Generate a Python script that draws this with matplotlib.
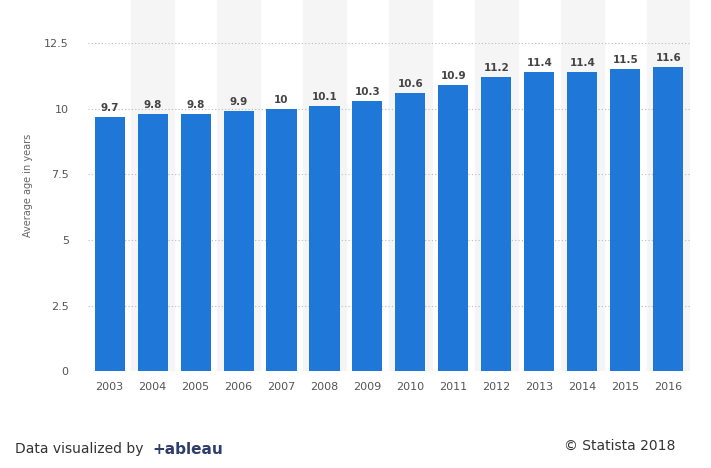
import matplotlib.pyplot as plt

# DATA
years = ["2003", "2004", "2005", "2006", "2007", "2008", "2009",
         "2010", "2011", "2012", "2013", "2014", "2015", "2016"]
ages = [9.7, 9.8, 9.8, 9.9, 10, 10.1, 10.3, 10.6, 10.9, 11.2, 11.4, 11.4, 11.5, 11.6]
yticks = [0, 2.5, 5, 7.5, 10, 12.5]
ytick_labels = ["0", "2.5", "5", "7.5", "10", "12.5"]

fig = plt.figure(figsize=(7.11, 4.68), dpi=100)
ax = fig.add_axes([0.124, 0.207, 0.846, 0.793])

x = range(len(years))

# alternating light background bands
for i in x:
    if i % 2 == 1:
        ax.axvspan(i - 0.5, i + 0.5, color="#f5f5f5", zorder=0)

bars = ax.bar(x, ages, width=0.7, color="#1f77d8", zorder=3)

for xi, v in zip(x, ages):
    ax.text(xi, v + 0.15, f"{v:g}", ha="center", va="bottom",
            fontsize=7.5, fontweight="bold", color="#444444", zorder=4)

ax.set_xlim(-0.5, len(years) - 0.5)
ax.set_ylim(0, 14.14)
ax.set_yticks(yticks)
ax.set_yticklabels(ytick_labels)
ax.set_xticks(list(x))
ax.set_xticklabels(years)
ax.yaxis.grid(True, linestyle=(0, (1, 2)), color="#bbbbbb", linewidth=0.8, zorder=1)
ax.tick_params(axis="both", length=0, labelsize=8, colors="#555555", pad=8)
ax.tick_params(axis="y", pad=14)
for s in ax.spines.values():
    s.set_visible(False)
ax.set_ylabel("Average age in years", fontsize=7, color="#666666", labelpad=8)

# footer
fig.text(15 / 711, 1 - 449 / 468, "Data visualized by", fontsize=10,
         color="#333333", va="center")
fig.text(152 / 711, 1 - 449 / 468, "+ableau", fontsize=11, color="#2d3e6b",
         va="center", fontweight="bold")
fig.text(675 / 711, 1 - 446 / 468, "© Statista 2018", fontsize=10,
         color="#333333", va="center", ha="right")

plt.savefig("out.png", dpi=100)
